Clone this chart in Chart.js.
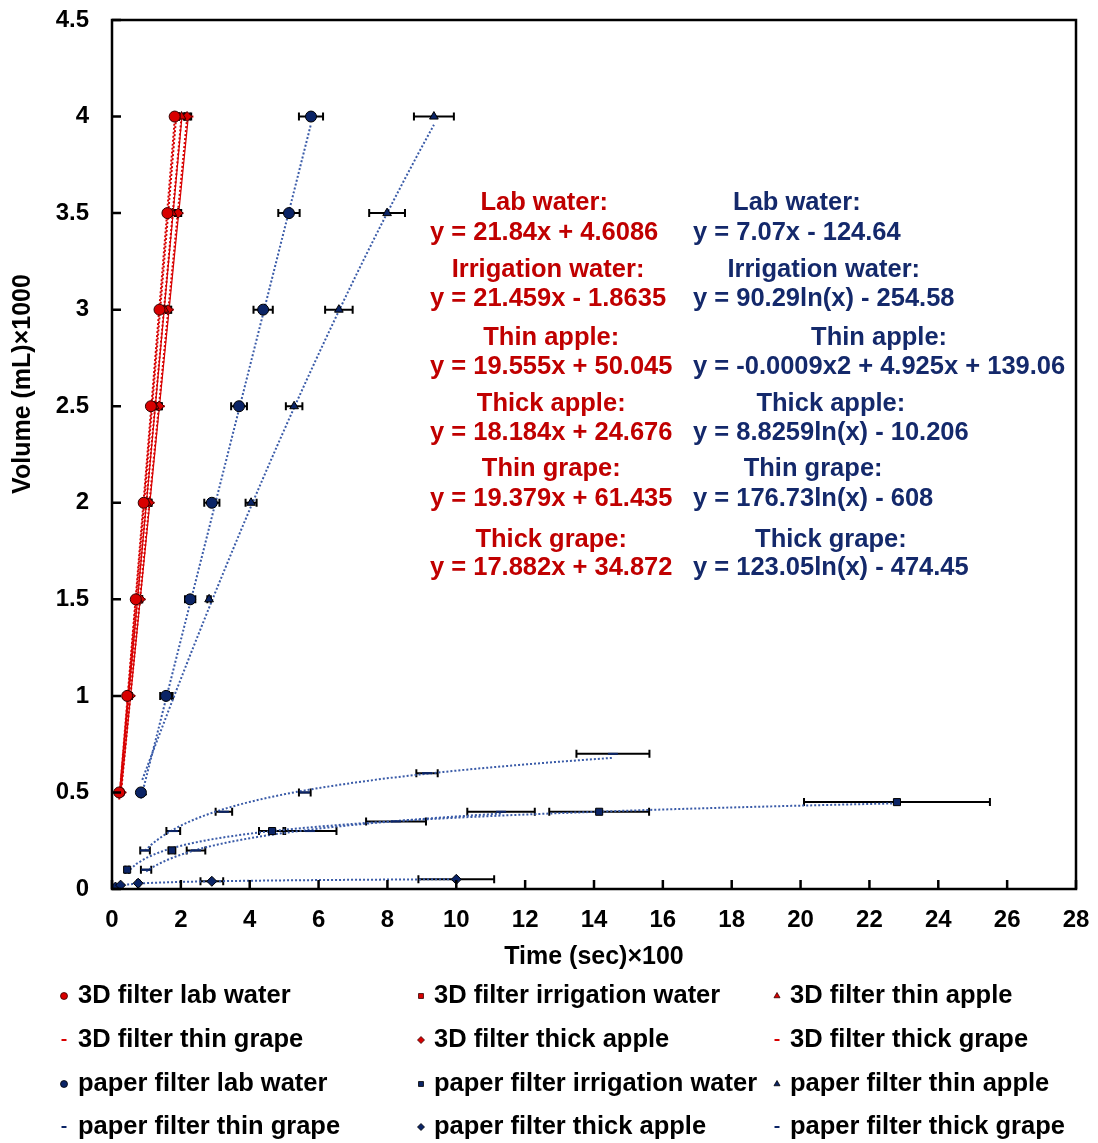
<!DOCTYPE html>
<html>
<head>
<meta charset="utf-8">
<script src="https://cdn.jsdelivr.net/npm/chart.js@4.4.0/dist/chart.umd.min.js"></script>
<style>
  html, body { margin: 0; padding: 0; background: #fff; }
  #wrap { width: 1098px; height: 1143px; }
</style>
</head>
<body>
<div id="wrap"><canvas id="c" width="1098" height="1143"></canvas></div>
<script>
// ---- Tick labels ----
const xTickValues = [0, 2, 4, 6, 8, 10, 12, 14, 16, 18, 20, 22, 24, 26, 28];
const yTickValues = [0, 0.5, 1, 1.5, 2, 2.5, 3, 3.5, 4, 4.5];

// ---- 3D filter (time ×100 s, volume ×1000 mL) ----
const levels3D = [0.5, 1, 1.5, 2, 2.5, 3, 3.5, 4];
const labWater3D   = [0.21, 0.44, 0.69, 0.92, 1.13, 1.38, 1.61, 1.82];
const irrigation3D = [0.24, 0.47, 0.70, 0.94, 1.17, 1.41, 1.63, 1.87];
const thinApple3D  = [0.24, 0.47, 0.75, 1.01, 1.24, 1.52, 1.75, 2.02];
const thinGrape3D  = [0.23, 0.49, 0.73, 1.01, 1.27, 1.51, 1.80, 2.03];
const thickApple3D = [0.26, 0.53, 0.82, 1.08, 1.37, 1.63, 1.92, 2.18];
const thickGrape3D = [0.27, 0.53, 0.83, 1.09, 1.39, 1.65, 1.93, 2.22];
const err3D        = [0.03, 0.04, 0.05, 0.06, 0.06, 0.07, 0.08, 0.08];

// ---- Paper filter ----
const levelsPaperLab   = [0.5, 1, 1.5, 2, 2.5, 3, 3.5, 4];
const labWaterPaper    = [0.84, 1.57, 2.27, 2.90, 3.69, 4.39, 5.14, 5.78];
const labWaterPaperErr = [0.05, 0.17, 0.15, 0.22, 0.23, 0.28, 0.31, 0.35];

const levelsPaperThinApple = [0.5, 1, 1.5, 2, 2.5, 3, 3.5, 4];
const thinApplePaper       = [0.88, 1.66, 2.82, 4.04, 5.29, 6.59, 7.99, 9.35];
const thinApplePaperErr    = [0.05, 0.10, 0.05, 0.16, 0.24, 0.40, 0.52, 0.58];

const levelsPaperIrrigation = [0.1, 0.2, 0.3, 0.4, 0.45];
const irrigationPaper       = [0.44, 1.74, 4.65, 14.15, 22.8];
const irrigationPaperErr    = [0.05, 0.10, 0.38, 1.45, 2.7];

const levelsPaperThinGrape = [0.2, 0.3, 0.4, 0.5, 0.6, 0.7];
const thinGrapePaper       = [0.96, 1.78, 3.25, 5.6, 9.15, 14.55];
const thinGrapePaperErr    = [0.14, 0.20, 0.24, 0.17, 0.31, 1.06];

const levelsPaperThickGrape = [0.1, 0.2, 0.3, 0.35, 0.4];
const thickGrapePaper       = [0.99, 2.44, 5.75, 8.25, 11.3];
const thickGrapePaperErr    = [0.15, 0.27, 0.77, 0.87, 0.98];

const levelsPaperThickApple = [0.01, 0.02, 0.03, 0.04, 0.05];
const thickApplePaper       = [0.10, 0.25, 0.76, 2.9, 10.0];
const thickApplePaperErr    = [0.0, 0.0, 0.03, 0.33, 1.1];

// ---- Trendline coefficients (volume in mL, time in s) ----
const fitLab3D        = [21.84, 4.6086];
const fitIrrigation3D = [21.459, -1.8635];
const fitThinApple3D  = [19.555, 50.045];
const fitThickApple3D = [18.184, 24.676];
const fitThinGrape3D  = [19.379, 61.435];
const fitThickGrape3D = [17.882, 34.872];
const fitLabPaper        = [7.07, -124.64];
const fitIrrigationPaper = [90.29, -254.58];
const fitThinApplePaper  = [-0.0009, 4.925, 139.06];
const fitThickApplePaper = [8.8259, -10.206];
const fitThinGrapePaper  = [176.73, -608];
const fitThickGrapePaper = [123.05, -474.45];

// ---- Equation labels ----
const eqTitles = ['Lab water:', 'Irrigation water:', 'Thin apple:', 'Thick apple:', 'Thin grape:', 'Thick grape:'];
const eqText3D = ['y = 21.84x + 4.6086', 'y = 21.459x - 1.8635', 'y = 19.555x + 50.045',
                  'y = 18.184x + 24.676', 'y = 19.379x + 61.435', 'y = 17.882x + 34.872'];
const eqTextPaper = ['y = 7.07x - 124.64', 'y = 90.29ln(x) - 254.58', 'y = -0.0009x2 + 4.925x + 139.06',
                     'y = 8.8259ln(x) - 10.206', 'y = 176.73ln(x) - 608', 'y = 123.05ln(x) - 474.45'];

const yAxisTitle = 'Volume (mL)×1000';
const xAxisTitle = 'Time (sec)×100';

const RED = '#D80000';
const RED_TEXT = '#C00000';
const NAVY = '#0B2466';
const NAVY_TEXT = '#14296B';
const TREND_BLUE = '#3A5BA8';
const FONT = "'Liberation Sans', Arial, sans-serif";

function pts(xs, ys) { return xs.map((v, i) => ({ x: v, y: ys[i] })); }

// trend curve points in chart units from a fit in mL / s
function trend(kind, c, xs) {
  const lo = Math.min(...xs), hi = Math.max(...xs);
  const f = t => kind === 'lin' ? c[0] * t + c[1]
              : kind === 'log' ? c[0] * Math.log(t) + c[1]
              : c[0] * t * t + c[1] * t + c[2];
  const n = kind === 'lin' ? 1 : 80;
  const out = [];
  for (let i = 0; i <= n; i++) {
    const x = lo + (hi - lo) * i / n;
    out.push({ x: x, y: f(x * 100) / 1000 });
  }
  return out;
}

function series(label, xs, ys, errs, style, fill, border, radius) {
  return {
    label: label, data: pts(xs, ys), errX: errs, showLine: false,
    pointStyle: style, pointRadius: radius, pointHoverRadius: radius,
    backgroundColor: fill, borderColor: border, pointBorderColor: border,
    pointBorderWidth: style === 'line' ? 2 : 1, order: 0, isData: true
  };
}
function trendSet(data, color, dash, width) {
  return {
    label: '', data: data, showLine: true, pointRadius: 0, borderColor: color,
    borderWidth: width, borderDash: dash, fill: false, order: 1, isData: false
  };
}

const datasets = [
  series('3D filter lab water', labWater3D, levels3D, err3D, 'circle', RED, '#300', 5.5),
  series('3D filter irrigation water', irrigation3D, levels3D, err3D, 'rect', RED, '#300', 5),
  series('3D filter thin apple', thinApple3D, levels3D, err3D, 'triangle', RED, '#300', 5),
  series('3D filter thin grape', thinGrape3D, levels3D, err3D, 'line', RED, RED, 5),
  series('3D filter thick apple', thickApple3D, levels3D, err3D, 'rectRot', RED, '#300', 5),
  series('3D filter thick grape', thickGrape3D, levels3D, err3D, 'line', RED, RED, 5),
  series('paper filter lab water', labWaterPaper, levelsPaperLab, labWaterPaperErr, 'circle', NAVY, '#000', 5.5),
  series('paper filter irrigation water', irrigationPaper, levelsPaperIrrigation, irrigationPaperErr, 'rect', NAVY, '#000', 5),
  series('paper filter thin apple', thinApplePaper, levelsPaperThinApple, thinApplePaperErr, 'triangle', NAVY, '#000', 5),
  series('paper filter thin grape', thinGrapePaper, levelsPaperThinGrape, thinGrapePaperErr, 'line', NAVY, NAVY, 5),
  series('paper filter thick apple', thickApplePaper, levelsPaperThickApple, thickApplePaperErr, 'rectRot', NAVY, '#000', 5),
  series('paper filter thick grape', thickGrapePaper, levelsPaperThickGrape, thickGrapePaperErr, 'line', NAVY, NAVY, 5),

  trendSet(trend('lin', fitLab3D, labWater3D), RED, [2, 2], 2),
  trendSet(trend('lin', fitIrrigation3D, irrigation3D), RED, [2, 2], 2),
  trendSet(trend('lin', fitThinApple3D, thinApple3D), RED, [2, 2], 2),
  trendSet(trend('lin', fitThickApple3D, thickApple3D), RED, [2, 2], 2),
  trendSet(trend('lin', fitThinGrape3D, thinGrape3D), RED, [], 1.2),
  trendSet(trend('lin', fitThickGrape3D, thickGrape3D), RED, [], 1.2),
  trendSet(trend('lin', fitLabPaper, labWaterPaper), TREND_BLUE, [2, 2], 2),
  trendSet(trend('log', fitIrrigationPaper, irrigationPaper), TREND_BLUE, [2, 2], 2),
  trendSet(trend('poly', fitThinApplePaper, thinApplePaper), TREND_BLUE, [2, 2], 2),
  trendSet(trend('log', fitThickApplePaper, thickApplePaper), TREND_BLUE, [2, 2], 2),
  trendSet(trend('log', fitThinGrapePaper, thinGrapePaper), TREND_BLUE, [2, 2], 2),
  trendSet(trend('log', fitThickGrapePaper, thickGrapePaper), TREND_BLUE, [2, 2], 2)
];

// horizontal error bars, drawn beneath the markers
const errorBars = {
  id: 'errorBars',
  beforeDatasetsDraw(chart) {
    const { ctx, scales: { x, y } } = chart;
    ctx.save();
    ctx.strokeStyle = '#000';
    ctx.lineWidth = 2;
    chart.data.datasets.forEach(ds => {
      if (!ds.isData) return;
      ds.data.forEach((p, i) => {
        const e = ds.errX[i];
        if (!e) return;
        const x0 = x.getPixelForValue(p.x - e), x1 = x.getPixelForValue(p.x + e);
        const py = y.getPixelForValue(p.y);
        ctx.beginPath();
        ctx.moveTo(x0, py); ctx.lineTo(x1, py);
        ctx.moveTo(x0, py - 4); ctx.lineTo(x0, py + 4);
        ctx.moveTo(x1, py - 4); ctx.lineTo(x1, py + 4);
        ctx.stroke();
      });
    });
    ctx.restore();
  }
};

// plot frame, inward tick marks and the vertical axis title
const frame = {
  id: 'frame',
  afterDraw(chart) {
    const { ctx, chartArea: a, scales: { x, y } } = chart;
    ctx.save();
    ctx.strokeStyle = '#000';
    ctx.lineWidth = 2.5;
    ctx.strokeRect(a.left, a.top, a.right - a.left, a.bottom - a.top);
    ctx.beginPath();
    x.ticks.forEach(t => {
      const px = x.getPixelForValue(t.value);
      ctx.moveTo(px, a.bottom); ctx.lineTo(px, a.bottom - 9);
    });
    y.ticks.forEach(t => {
      const py = y.getPixelForValue(t.value);
      ctx.moveTo(a.left, py); ctx.lineTo(a.left + 9, py);
    });
    ctx.stroke();

    ctx.translate(23, 384);
    ctx.rotate(-Math.PI / 2);
    ctx.font = 'bold 25px ' + FONT;
    ctx.fillStyle = '#000';
    ctx.textAlign = 'center';
    ctx.textBaseline = 'middle';
    ctx.fillText(yAxisTitle, 0, 0);
    ctx.restore();
  }
};

// trendline equation blocks inside the plot
const equations = {
  id: 'equations',
  afterDraw(chart) {
    const { ctx, chartArea: a } = chart;
    const titleY = [203, 270, 338, 404, 469, 540];
    const eqY = [233, 299, 367, 433, 499, 568];
    ctx.save();
    ctx.font = 'bold 25.5px ' + FONT;
    ctx.textBaseline = 'middle';
    const block = (title, eq, left, ty, ey, color) => {
      ctx.fillStyle = color;
      const w = ctx.measureText(eq).width;
      ctx.textAlign = 'left';
      ctx.fillText(eq, left, ey);
      ctx.textAlign = 'center';
      ctx.fillText(title, left + w / 2, ty);
    };
    for (let i = 0; i < 6; i++) {
      block(eqTitles[i], eqText3D[i], a.left + 318, titleY[i], eqY[i], RED_TEXT);
      block(eqTitles[i], eqTextPaper[i], a.left + 581, titleY[i], eqY[i], NAVY_TEXT);
    }
    ctx.restore();
  }
};

// three-column legend under the plot
const gridLegend = {
  id: 'gridLegend',
  afterDraw(chart) {
    const { ctx } = chart;
    const colMarker = [64, 421, 777];
    const colText = [78, 434, 790];
    const rowY = [996, 1040, 1084, 1127];
    ctx.save();
    ctx.font = 'bold 25.5px ' + FONT;
    ctx.textBaseline = 'middle';
    ctx.textAlign = 'left';
    const items = chart.data.datasets.filter(d => d.isData);
    items.forEach((ds, i) => {
      const r = Math.floor(i / 3), c = i % 3;
      const mx = colMarker[c], my = rowY[r];
      ctx.fillStyle = ds.backgroundColor;
      ctx.strokeStyle = ds.borderColor;
      ctx.lineWidth = ds.pointStyle === 'line' ? 2 : 0.8;
      Chart.helpers.drawPoint(ctx, { pointStyle: ds.pointStyle, radius: ds.pointStyle === 'line' ? 2.5 : 3.5, borderWidth: ctx.lineWidth }, mx, my);
      ctx.fillStyle = '#000';
      ctx.fillText(ds.label, colText[c], my);
    });
    ctx.restore();
  }
};

const noOverflow = s => { s.paddingTop = 0; s.paddingBottom = 0; s.paddingLeft = 0; s.paddingRight = 0; };

new Chart(document.getElementById('c'), {
  type: 'scatter',
  data: { datasets: datasets },
  options: {
    responsive: false,
    animation: false,
    devicePixelRatio: 1,
    layout: { padding: { top: 20, right: 22, left: 0, bottom: 168 } },
    plugins: { legend: { display: false }, tooltip: { enabled: false } },
    scales: {
      x: {
        type: 'linear', min: 0, max: 28,
        afterBuildTicks: s => { s.ticks = xTickValues.map(v => ({ value: v })); },
        afterFit: s => { s.height = 86; noOverflow(s); },
        grid: { display: false, drawTicks: false },
        border: { display: false },
        ticks: { color: '#000', padding: 17, callback: v => String(v),
                 font: { family: FONT, size: 24, weight: 'bold' } },
        title: { display: true, text: xAxisTitle, color: '#000', padding: { top: 0, bottom: 3 },
                 font: { family: FONT, size: 25, weight: 'bold' } }
      },
      y: {
        type: 'linear', min: 0, max: 4.5,
        afterBuildTicks: s => { s.ticks = yTickValues.map(v => ({ value: v })); },
        afterFit: s => { s.width = 112; noOverflow(s); },
        grid: { display: false, drawTicks: false },
        border: { display: false },
        ticks: { color: '#000', padding: 23, callback: v => String(v),
                 font: { family: FONT, size: 24, weight: 'bold' } },
        title: { display: false }
      }
    }
  },
  plugins: [errorBars, frame, equations, gridLegend]
});
</script>
</body>
</html>
